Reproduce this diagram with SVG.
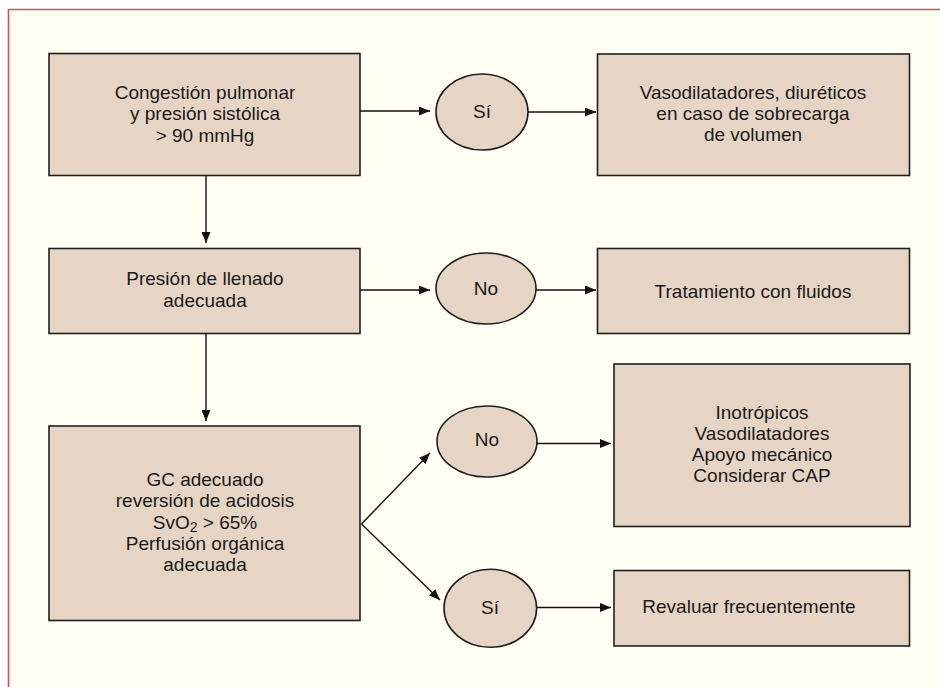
<svg xmlns="http://www.w3.org/2000/svg" width="940" height="687" viewBox="0 0 940 687">
<defs>
<marker id="arr" markerUnits="userSpaceOnUse" markerWidth="11" markerHeight="9" refX="11" refY="4.5" orient="auto">
<path d="M0,0 L11,4.5 L0,9 z" fill="#111"/>
</marker>
<style>
.box{fill:#E6D5C5;stroke:#1e1e1e;stroke-width:1.6}
.t{font-family:"Liberation Sans",Arial,sans-serif;font-size:19px;fill:#1a1a1a;text-anchor:middle}
.c{stroke:#111;stroke-width:1.4;fill:none;marker-end:url(#arr)}
</style>
</defs>
<rect x="0" y="0" width="940" height="687" fill="#ffffff"/>
<rect x="8.5" y="9.5" width="932" height="678" fill="#FFFFF4"/>
<path d="M8.5,687 L8.5,9.5 L940,9.5" fill="none" stroke="#DA4B5E" stroke-width="1.6"/>

<g id="n1"><rect class="box" x="49" y="53.5" width="311" height="122"/>
<text class="t"><tspan x="205" y="99">Congestión pulmonar</tspan><tspan x="205" y="120.3">y presión sistólica</tspan><tspan x="205" y="141.6">&gt; 90 mmHg</tspan></text></g>

<g id="n2"><ellipse class="box" cx="482" cy="112" rx="46" ry="38"/>
<text class="t" x="482" y="118">Sí</text></g>

<g id="n3"><rect class="box" x="597.5" y="54" width="312" height="121.5"/>
<text class="t"><tspan x="753" y="98.5">Vasodilatadores, diuréticos</tspan><tspan x="753" y="119.8">en caso de sobrecarga</tspan><tspan x="753" y="141">de volumen</tspan></text></g>

<g id="n4"><rect class="box" x="49" y="248.5" width="311" height="85"/>
<text class="t"><tspan x="205" y="284.5">Presión de llenado</tspan><tspan x="205" y="306.5">adecuada</tspan></text></g>

<g id="n5"><ellipse class="box" cx="486" cy="288.5" rx="50" ry="35.5"/>
<text class="t" x="486" y="294.5">No</text></g>

<g id="n6"><rect class="box" x="597.5" y="248.5" width="312" height="85"/>
<text class="t" x="753" y="297.5">Tratamiento con fluidos</text></g>

<g id="n7"><rect class="box" x="49" y="426" width="311" height="194.5"/>
<text class="t"><tspan x="205" y="486">GC adecuado</tspan><tspan x="205" y="507.3">reversión de acidosis</tspan><tspan x="205" y="528.6">SvO<tspan font-size="14" dy="3">2</tspan><tspan dy="-3"> &gt; 65%</tspan></tspan><tspan x="205" y="549.9">Perfusión orgánica</tspan><tspan x="205" y="571">adecuada</tspan></text></g>

<g id="n8"><ellipse class="box" cx="487" cy="441.5" rx="50" ry="35.5"/>
<text class="t" x="487" y="446">No</text></g>

<g id="n9"><rect class="box" x="614" y="364" width="296" height="162.5"/>
<text class="t"><tspan x="762" y="418.5">Inotrópicos</tspan><tspan x="762" y="439.5">Vasodilatadores</tspan><tspan x="762" y="460.5">Apoyo mecánico</tspan><tspan x="762" y="481.5">Considerar CAP</tspan></text></g>

<g id="n10"><ellipse class="box" cx="490.3" cy="608.3" rx="46.3" ry="39"/>
<text class="t" x="490" y="614">Sí</text></g>

<g id="n11"><rect class="box" x="614" y="570.5" width="295.5" height="75.5"/>
<text class="t" x="749" y="613">Revaluar frecuentemente</text></g>

<g id="connectors">
<line class="c" x1="360" y1="111" x2="430" y2="111"/>
<line class="c" x1="528" y1="112" x2="596" y2="112"/>
<line class="c" x1="206" y1="175.5" x2="206" y2="243"/>
<line class="c" x1="360" y1="290" x2="430" y2="290"/>
<line class="c" x1="536" y1="290" x2="596" y2="290"/>
<line class="c" x1="206" y1="333.5" x2="206" y2="421"/>
<line class="c" x1="361.5" y1="524" x2="430" y2="453"/>
<line class="c" x1="361.5" y1="524" x2="440" y2="600"/>
<line class="c" x1="537" y1="443.5" x2="611" y2="443.5"/>
<line class="c" x1="537" y1="607.5" x2="611" y2="607.5"/>
</g>
</svg>
